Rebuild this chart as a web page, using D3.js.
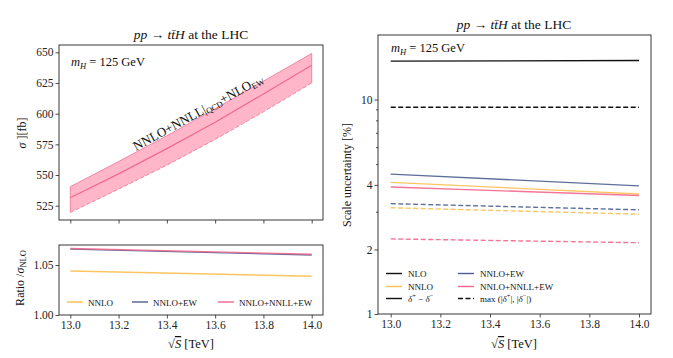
<!DOCTYPE html>
<html>
<head>
<meta charset="utf-8">
<script src="https://cdn.jsdelivr.net/npm/d3@7"></script>
<style>
  body { margin: 0; background: #fff; }
  svg, svg text { font-family: "Liberation Serif", "DejaVu Serif", "Noto Serif", "Times New Roman", Times, serif !important; }
  .it { font-style: italic; }
</style>
</head>
<body>
<div id="chart"></div>
<script>
// data
const energies = [13.0, 13.2, 13.4, 13.6, 13.8, 14.0]
const sigmaCentral = [531.5, 551, 571.5, 593, 616, 639.5]
const sigmaUp = [540.5, 561, 582, 604, 626.5, 649]
const sigmaDown = [519.5, 538.5, 558, 579, 601.5, 625]

const ratioEnergies = [13.0, 14.0]
const ratioNNLO = [1.044, 1.0388]
const ratioNNLOEW = [1.0659, 1.0600]
const ratioNNLONNLLEW = [1.0665, 1.0608]

// scale uncertainty [%], at 13 and 14 TeV
const uncNLO = [15.1, 15.2]
const uncNLOmax = [9.2, 9.2]
const uncNNLOEW = [4.49, 3.96]
const uncNNLO = [4.11, 3.63]
const uncNNLONNLLEW = [3.91, 3.57]
const uncNNLOEWmax = [3.27, 3.06]
const uncNNLOmax = [3.13, 2.92]
const uncNNLONNLLEWmax = [2.24, 2.15]

const xTicks = [13.0, 13.2, 13.4, 13.6, 13.8, 14.0]
const sigmaTicks = [525, 550, 575, 600, 625, 650]
const ratioTicks = [1.00, 1.05]
const uncTicks = [1, 2, 4, 10]
const uncMinor = [3, 5, 6, 7, 8, 9]

const colNNLO = '#fdbf50'
const colEW = '#4d5f90'
const colPink = '#f2668d'
const serif = '"Liberation Serif", "DejaVu Serif", "Noto Serif", "Times New Roman", serif'

const width = 673, height = 358
const svg = d3.select('#chart').append('svg').attr('width', width).attr('height', height)
    .attr('font-family', serif)

// panel frames
const pTop = { l: 59, r: 323, t: 45, b: 220 }
const pRat = { l: 59, r: 323, t: 245, b: 315 }
const pRight = { l: 378, r: 651, t: 35, b: 314 }

const xLeft = d3.scaleLinear().domain([13, 14]).range([70.3, 311.7])
const xRight = d3.scaleLinear().domain([13, 14]).range([390.7, 639])
const ySigma = d3.scaleLinear().domain([525, 650]).range([205.7, 52.3])
const yRatio = d3.scaleLinear().domain([1.0, 1.07]).range([315, 245])
const yUnc = d3.scaleLog().domain([1, 20]).range([314, 35])

function styleAxis(g, labels) {
    g.attr('font-family', serif)
    g.select('.domain').remove()
    g.selectAll('.tick line').attr('stroke', '#222').attr('stroke-width', 0.8)
    g.selectAll('.tick text').attr('font-size', 11.5).attr('fill', '#222')
    if (!labels) g.selectAll('.tick text').remove()
}
function frame(p) {
    svg.append('rect').attr('x', p.l).attr('y', p.t)
        .attr('width', p.r - p.l).attr('height', p.b - p.t)
        .attr('fill', 'none').attr('stroke', '#222').attr('stroke-width', 0.9)
}

// ---------- top left: cross section ----------
const band = d3.area()
    .x((d, i) => xLeft(energies[i]))
    .y0((d, i) => ySigma(sigmaDown[i]))
    .y1((d, i) => ySigma(sigmaUp[i]))
svg.append('path').datum(energies).attr('d', band)
    .attr('fill', '#ffb6c8').attr('stroke', 'none')
const lineOf = (xs, ys, xsc, ysc) => d3.line().x((d, i) => xsc(xs[i])).y((d, i) => ysc(ys[i]))(xs)
svg.append('path').attr('d', lineOf(energies, sigmaUp, xLeft, ySigma))
    .attr('fill', 'none').attr('stroke', '#f47c9d').attr('stroke-width', 0.9)
svg.append('path').attr('d', lineOf(energies, sigmaDown, xLeft, ySigma))
    .attr('fill', 'none').attr('stroke', '#f47c9d').attr('stroke-width', 0.9).attr('stroke-dasharray', '4,2')
svg.append('path').attr('d', lineOf(energies, sigmaCentral, xLeft, ySigma))
    .attr('fill', 'none').attr('stroke', '#f06a90').attr('stroke-width', 1.3)
svg.append('line').attr('x1', xLeft(13)).attr('x2', xLeft(13))
    .attr('y1', ySigma(sigmaDown[0])).attr('y2', ySigma(sigmaUp[0]))
    .attr('stroke', '#f47c9d').attr('stroke-width', 0.9)
svg.append('line').attr('x1', xLeft(14)).attr('x2', xLeft(14))
    .attr('y1', ySigma(sigmaDown[5])).attr('y2', ySigma(sigmaUp[5]))
    .attr('stroke', '#f47c9d').attr('stroke-width', 0.9)

styleAxis(svg.append('g').attr('transform', `translate(${pTop.l},0)`)
    .call(d3.axisLeft(ySigma).tickValues(sigmaTicks).tickSize(3.5).tickPadding(2)), true)
styleAxis(svg.append('g').attr('transform', `translate(0,${pTop.b})`)
    .call(d3.axisBottom(xLeft).tickValues(xTicks).tickSize(3.5)), false)
frame(pTop)

// title
function title(cx, y) {
    const t = svg.append('text').attr('x', cx).attr('y', y).attr('text-anchor', 'middle')
        .attr('font-size', 13.5).attr('fill', '#111')
    t.append('tspan').attr('class', 'it').text('pp')
    t.append('tspan').text(' → ')
    t.append('tspan').attr('class', 'it').text('tt̄H')
    t.append('tspan').text(' at the LHC')
}
title(191, 39)
title(514, 29)

function massLabel(x, y) {
    const t = svg.append('text').attr('x', x).attr('y', y).attr('font-size', 12.5).attr('fill', '#111')
    t.append('tspan').attr('class', 'it').text('m')
    t.append('tspan').attr('class', 'it').attr('font-size', 8.5).attr('dy', 2.5).text('H')
    t.append('tspan').attr('dy', -2.5).text(' = 125 GeV')
}
massLabel(71, 66)
massLabel(391, 52)

// band label
const bl = svg.append('text').attr('transform', 'translate(136,151) rotate(-28.5)')
    .attr('font-size', 13).attr('fill', '#111')
bl.append('tspan').text('NNLO+NNLL|')
bl.append('tspan').attr('font-size', 8.5).attr('dy', 2).text('QCD')
bl.append('tspan').attr('dy', -2).text('+NLO')
bl.append('tspan').attr('font-size', 8.5).attr('dy', 2).text('EW')

svg.append('text').attr('transform', 'translate(26,133) rotate(-90)')
    .attr('text-anchor', 'middle').attr('font-size', 12).attr('fill', '#111')
    .call(t => {
        t.append('tspan').attr('class', 'it').text('σ')
        t.append('tspan').text(' ][fb]')
    })

// ---------- ratio panel ----------
const ratioSeries = [
    { ys: ratioNNLO, c: colNNLO, name: 'NNLO', lx: 67 },
    { ys: ratioNNLOEW, c: colEW, name: 'NNLO+EW', lx: 132 },
    { ys: ratioNNLONNLLEW, c: colPink, name: 'NNLO+NNLL+EW', lx: 218 }
]
ratioSeries.forEach(s => {
    svg.append('path').attr('d', lineOf(ratioEnergies, s.ys, xLeft, yRatio))
        .attr('fill', 'none').attr('stroke', s.c).attr('stroke-width', 1.4).attr('stroke-opacity', 0.9)
})
ratioSeries.forEach(s => {
    svg.append('line').attr('x1', s.lx).attr('x2', s.lx + 16).attr('y1', 302).attr('y2', 302)
        .attr('stroke', s.c).attr('stroke-width', 1.4)
    svg.append('text').attr('x', s.lx + 21).attr('y', 305.5).attr('font-size', 9).attr('fill', '#111').text(s.name)
})
styleAxis(svg.append('g').attr('transform', `translate(${pRat.l},0)`)
    .call(d3.axisLeft(yRatio).tickValues(ratioTicks).tickFormat(d3.format('.2f')).tickSize(3.5).tickPadding(2)), true)
styleAxis(svg.append('g').attr('transform', `translate(0,${pRat.b})`)
    .call(d3.axisBottom(xLeft).tickValues(xTicks).tickFormat(d3.format('.1f')).tickSize(3.5).tickPadding(2)), true)
frame(pRat)

svg.append('text').attr('transform', 'translate(24,278) rotate(-90)')
    .attr('text-anchor', 'middle').attr('font-size', 12).attr('fill', '#111')
    .call(t => {
        t.append('tspan').text('Ratio /')
        t.append('tspan').attr('class', 'it').text('σ')
        t.append('tspan').attr('font-size', 8.5).attr('dy', 2).text('NLO')
    })

function sqrtLabel(cx, y) {
    const t = svg.append('text').attr('x', cx).attr('y', y).attr('text-anchor', 'middle')
        .attr('font-size', 12.5).attr('fill', '#111')
    t.append('tspan').text('√')
    t.append('tspan').attr('class', 'it').attr('text-decoration', 'overline').text('S')
    t.append('tspan').text(' [TeV]')
}
sqrtLabel(191, 348)
sqrtLabel(514, 348)

// ---------- right panel: scale uncertainty ----------
const uncSeries = [
    { ys: uncNLO, c: '#111', dash: null },
    { ys: uncNLOmax, c: '#111', dash: '5,2.5' },
    { ys: uncNNLOEW, c: colEW, dash: null },
    { ys: uncNNLO, c: colNNLO, dash: null },
    { ys: uncNNLONNLLEW, c: colPink, dash: null },
    { ys: uncNNLOEWmax, c: colEW, dash: '5,2.5' },
    { ys: uncNNLOmax, c: colNNLO, dash: '5,2.5' },
    { ys: uncNNLONNLLEWmax, c: colPink, dash: '5,2.5' }
]
uncSeries.forEach(s => {
    svg.append('path').attr('d', lineOf(ratioEnergies, s.ys, xRight, yUnc))
        .attr('fill', 'none').attr('stroke', s.c).attr('stroke-width', 1.4)
        .attr('stroke-opacity', s.c === '#111' ? 1 : 0.9)
        .attr('stroke-dasharray', s.dash)
})
styleAxis(svg.append('g').attr('transform', `translate(${pRight.l},0)`)
    .call(d3.axisLeft(yUnc).tickValues(uncTicks).tickFormat(d3.format('d')).tickSize(3.5).tickPadding(2)), true)
styleAxis(svg.append('g').attr('transform', `translate(${pRight.l},0)`)
    .call(d3.axisLeft(yUnc).tickValues(uncMinor).tickSize(2)), false)
styleAxis(svg.append('g').attr('transform', `translate(0,${pRight.b})`)
    .call(d3.axisBottom(xRight).tickValues(xTicks).tickFormat(d3.format('.1f')).tickSize(3.5).tickPadding(2)), true)
frame(pRight)

svg.append('text').attr('transform', 'translate(351,175) rotate(-90)')
    .attr('text-anchor', 'middle').attr('font-size', 12).attr('fill', '#111')
    .text('Scale uncertainty [%]')

// right legend
const legRows = [
    { x: 386, y: 273.5, c: '#111', dash: null, label: t => t.text('NLO') },
    { x: 386, y: 286.5, c: colNNLO, dash: null, label: t => t.text('NNLO') },
    { x: 386, y: 298.5, c: '#111', dash: null, label: t => {
        t.append('tspan').attr('class', 'it').text('δ')
        t.append('tspan').attr('font-size', 6.5).attr('dy', -3.5).text('+')
        t.append('tspan').attr('dy', 3.5).text(' − ')
        t.append('tspan').attr('class', 'it').text('δ')
        t.append('tspan').attr('font-size', 6.5).attr('dy', -3.5).text('−')
    } },
    { x: 458, y: 273.5, c: colEW, dash: null, label: t => t.text('NNLO+EW') },
    { x: 458, y: 286.5, c: colPink, dash: null, label: t => t.text('NNLO+NNLL+EW') },
    { x: 458, y: 298.5, c: '#111', dash: '5,2.5', label: t => {
        t.append('tspan').text('max (|')
        t.append('tspan').attr('class', 'it').text('δ')
        t.append('tspan').attr('font-size', 6.5).attr('dy', -3.5).text('+')
        t.append('tspan').attr('dy', 3.5).text('|, |')
        t.append('tspan').attr('class', 'it').text('δ')
        t.append('tspan').attr('font-size', 6.5).attr('dy', -3.5).text('−')
        t.append('tspan').attr('dy', 3.5).text('|)')
    } }
]
legRows.forEach(r => {
    svg.append('line').attr('x1', r.x).attr('x2', r.x + 16).attr('y1', r.y).attr('y2', r.y)
        .attr('stroke', r.c).attr('stroke-width', 1.4).attr('stroke-dasharray', r.dash)
    const t = svg.append('text').attr('x', r.x + 22).attr('y', r.y + 3.3).attr('font-size', 9).attr('fill', '#111')
    r.label(t)
})
</script>
</body>
</html>
